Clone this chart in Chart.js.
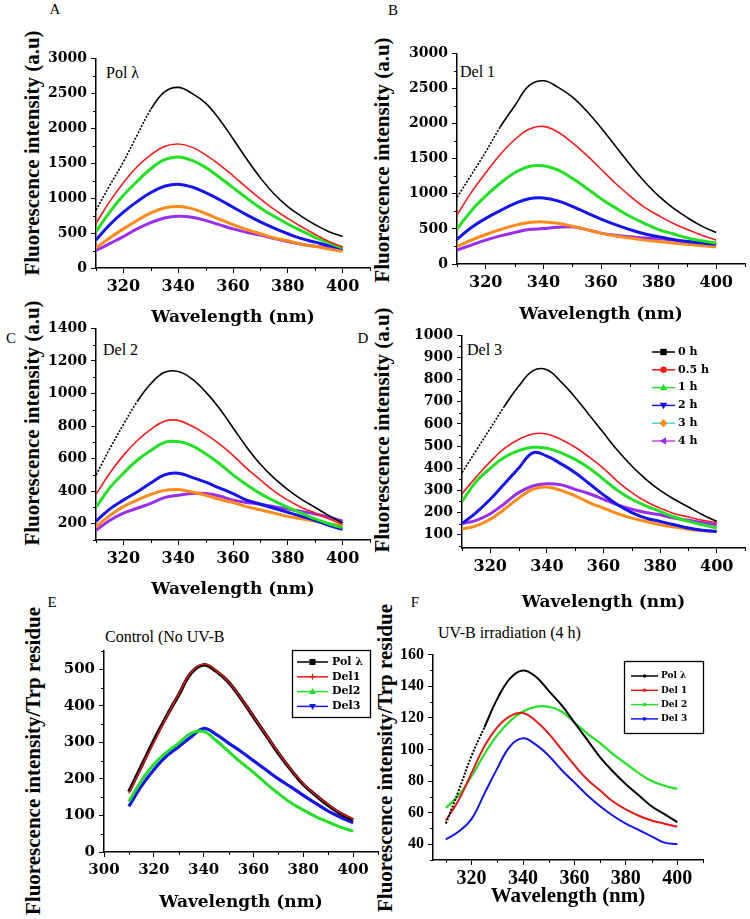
<!DOCTYPE html>
<html>
<head>
<meta charset="utf-8">
<script src="https://cdn.jsdelivr.net/npm/chart.js@4.4.0/dist/chart.umd.min.js"></script>
<style>
  body { margin:0; background:#fff; }
  #fig { position:relative; width:750px; height:919px; overflow:hidden; font-family:"Liberation Serif", serif; color:#000; }
  #fig canvas { position:absolute; }
  .lbl { position:absolute; white-space:nowrap; transform:translate(0,-50%); font-size:16px; }
  .let { position:absolute; white-space:nowrap; transform:translate(-50%,-50%); font-size:15px; }
  .ytitle { position:absolute; white-space:nowrap; font-weight:bold; font-size:21px; transform:translate(-50%,-50%) rotate(-90deg); }
</style>
</head>
<body>
<div id="fig">
  <div class="let" style="left:55px;top:9px">A</div>
  <div class="let" style="left:393px;top:10px">B</div>
  <div class="let" style="left:11px;top:338px">C</div>
  <div class="let" style="left:363px;top:338px">D</div>
  <div class="let" style="left:52px;top:602px">E</div>
  <div class="let" style="left:415px;top:602px">F</div>

  <div class="lbl" style="left:106px;top:73px">Pol λ</div>
  <div class="lbl" style="left:460px;top:72px">Del 1</div>
  <div class="lbl" style="left:103px;top:350px">Del 2</div>
  <div class="lbl" style="left:467px;top:350px">Del 3</div>
  <div class="lbl" style="left:105px;top:637px">Control (No UV-B</div>
  <div class="lbl" style="left:438px;top:633px">UV-B irradiation (4 h)</div>

  <div class="ytitle" style="left:32px;top:153px">Fluorescence intensity (a.u)</div>
  <div class="ytitle" style="left:382px;top:160px">Fluorescence intensity (a.u)</div>
  <div class="ytitle" style="left:32px;top:423px">Fluorescence intensity (a.u)</div>
  <div class="ytitle" style="left:382px;top:430px">Fluorescence intensity (a.u)</div>
  <div class="ytitle" style="left:33px;top:761px">Fluorescence intensity/Trp residue</div>
  <div class="ytitle" style="left:385px;top:758px">Fluorescence intensity/Trp residue</div>
</div>

<script>
// wavelengths (nm) shared by every spectrum
var wl = [310,315,320,325,330,335,340,345,350,355,360,365,370,375,380,385,390,395,400];

var times = ["0 h","0.5 h","1 h","2 h","3 h","4 h"];
var proteinsE = ["Pol λ","Del1","Del2","Del3"];
var proteinsF = ["Pol λ","Del 1","Del 2","Del 3"];

// A - Pol lambda
var a0h  = [830,1180,1520,1900,2270,2520,2585,2500,2360,2130,1850,1560,1290,1060,880,740,620,520,450];
var a05h = [640,950,1220,1450,1620,1740,1775,1730,1620,1480,1320,1150,990,840,710,590,480,380,300];
var a1h  = [520,800,1040,1240,1420,1550,1590,1540,1440,1300,1150,1000,860,740,630,530,440,360,290];
var a2h  = [400,620,800,950,1080,1170,1200,1160,1080,980,870,760,660,570,490,420,370,320,280];
var a3h  = [290,430,560,680,790,860,880,850,780,700,620,550,490,430,390,340,310,270,240];
var a4h  = [250,350,450,560,650,715,740,725,680,620,560,510,470,420,380,340,310,290,270];

// B - Del 1
var b0h  = [950,1270,1600,1950,2250,2540,2610,2520,2380,2180,1940,1680,1420,1180,970,800,660,540,450];
var b05h = [700,1020,1300,1560,1770,1920,1960,1880,1730,1550,1350,1150,970,810,690,580,490,410,340];
var b1h  = [500,760,970,1150,1300,1390,1400,1340,1220,1080,930,800,680,580,490,430,370,330,300];
var b2h  = [350,520,650,760,860,930,940,900,820,730,640,560,490,430,390,350,320,300,280];
var b3h  = [250,340,420,490,550,590,600,580,540,490,440,400,370,340,320,300,280,260,245];
var b4h  = [200,270,340,400,450,490,505,525,530,490,440,410,390,370,360,340,320,305,290];

// C - Del 2
var c0h  = [500,660,810,950,1060,1130,1135,1090,1010,910,790,670,565,480,410,350,300,250,205];
var c05h = [380,510,620,710,780,830,835,800,750,690,620,540,470,400,345,300,265,230,195];
var c1h  = [300,420,510,590,650,700,705,680,630,570,500,440,385,340,300,265,230,200,175];
var c2h  = [215,290,345,395,450,500,510,485,455,420,385,345,320,295,270,245,220,190,165];
var c3h  = [180,250,305,345,380,405,410,395,375,350,330,305,285,265,245,230,215,200,185];
var c4h  = [160,220,265,295,325,360,375,385,385,370,345,330,320,305,290,275,260,240,215];

// D - Del 3
var d0h  = [380,480,580,680,770,840,845,790,720,640,560,480,410,350,300,260,225,190,160];
var d05h = [285,360,430,490,530,555,555,530,495,450,400,340,290,250,220,195,180,165,155];
var d1h  = [250,340,400,450,480,495,490,470,440,400,350,300,260,230,205,180,160,145,130];
var d2h  = [150,200,260,330,400,470,455,420,380,330,280,235,200,175,160,145,130,120,115];
var d3h  = [125,140,170,215,265,305,315,300,275,245,220,195,175,160,145,135,125,118,115];
var d4h  = [150,165,195,240,290,320,330,325,305,285,260,235,215,200,190,175,165,155,145];

// E - control, per Trp residue
var ePol  = [165,235,305,370,430,490,512,495,465,420,370,320,270,225,185,155,128,105,88];
var eDel1 = [160,232,300,368,432,492,514,497,466,421,371,321,272,226,187,156,130,107,90];
var eDel2 = [138,195,240,272,298,325,330,305,275,245,218,188,160,135,115,97,82,68,57];
var eDel3 = [125,180,225,262,288,315,338,322,298,275,250,225,200,178,155,133,112,95,80];

// F - UV-B 4 h, per Trp residue
var fPol  = [53,74,96,114,132,145,150,146,137,128,117,106,95,86,78,71,64,59,54];
var fDel1 = [55,68,85,102,114,121,123,118,110,100,90,81,74,67,62,58,55,53,51];
var fDel2 = [63,71,83,97,109,118,124,127,127,124,117,110,104,97,91,85,80,77,75];
var fDel3 = [43,48,56,72,88,102,107,103,96,87,79,71,64,58,53,49,45,41,40];

// tick labels
var xTicks  = [320,340,360,380,400];
var xTicksE = [300,320,340,360,380,400];
var xMinor  = [310,330,350,370,390,410];
var yTicksAB = [0,500,1000,1500,2000,2500,3000];
var yMinorAB = [250,750,1250,1750,2250,2750];
var yTicksC = [200,400,600,800,1000,1200,1400];
var yMinorC = [100,300,500,700,900,1100,1300];
var yTicksD = [100,200,300,400,500,600,700,800,900,1000];
var yMinorD = [50,150,250,350,450,550,650,750,850,950];
var yTicksE = [0,100,200,300,400,500];
var yMinorE = [50,150,250,350,450,550];
var yTicksF = [40,60,80,100,120,140,160];
var yMinorF = [30,50,70,90,110,130,150];

var timeColors = ['#000000','#ff1a1a','#22e022','#1414f0','#ff8a18','#9a2ef0'];
var timeWidths = [1.6,1.6,3,3,3,3];
var protColors = ['#000000','#e81818','#22e022','#1414f0'];

var wide = 'DejaVu Serif', times_ = 'Liberation Serif';
Chart.defaults.color = '#000';

var fig = document.getElementById('fig');

function drawMarker(ctx, style, x, y, r, color) {
  ctx.fillStyle = color;
  ctx.strokeStyle = color;
  ctx.beginPath();
  if (style === 'square') ctx.rect(x - r, y - r, 2 * r, 2 * r);
  else if (style === 'circle') ctx.arc(x, y, r, 0, Math.PI * 2);
  else if (style === 'up') { ctx.moveTo(x, y - r * 1.2); ctx.lineTo(x + r * 1.15, y + r * 0.8); ctx.lineTo(x - r * 1.15, y + r * 0.8); }
  else if (style === 'down') { ctx.moveTo(x, y + r * 1.2); ctx.lineTo(x + r * 1.15, y - r * 0.8); ctx.lineTo(x - r * 1.15, y - r * 0.8); }
  else if (style === 'left') { ctx.moveTo(x - r * 1.2, y); ctx.lineTo(x + r * 0.8, y - r * 1.15); ctx.lineTo(x + r * 0.8, y + r * 1.15); }
  else if (style === 'diamond') { ctx.moveTo(x, y - r * 1.3); ctx.lineTo(x + r * 1.3, y); ctx.lineTo(x, y + r * 1.3); ctx.lineTo(x - r * 1.3, y); }
  else if (style === 'plus') { ctx.lineWidth = 1.2; ctx.moveTo(x - r, y); ctx.lineTo(x + r, y); ctx.moveTo(x, y - r); ctx.lineTo(x, y + r); ctx.stroke(); return; }
  ctx.closePath();
  ctx.fill();
}

// legend with a short line and a marker, in page coordinates
function legendPlugin(lg, ox, oy) {
  return {
    id: 'lineLegend',
    afterDatasetsDraw: function(chart) {
      var ctx = chart.ctx;
      ctx.save();
      if (lg.box) {
        ctx.strokeStyle = '#000';
        ctx.lineWidth = 1.3;
        ctx.strokeRect(lg.box[0] - ox + 0.5, lg.box[1] - oy + 0.5, lg.box[2] - lg.box[0], lg.box[3] - lg.box[1]);
      }
      ctx.font = lg.font;
      ctx.textBaseline = 'middle';
      lg.labels.forEach(function(lab, i) {
        var y = lg.y0 + i * lg.dy - oy;
        var x1 = lg.x0 - ox, x2 = lg.x1 - ox;
        ctx.strokeStyle = lg.lineColors[i];
        ctx.lineWidth = lg.lw;
        ctx.beginPath(); ctx.moveTo(x1, y); ctx.lineTo(x2, y); ctx.stroke();
        drawMarker(ctx, lg.markers[i], (x1 + x2) / 2, y, lg.r, lg.markColors[i]);
        ctx.fillStyle = '#000';
        ctx.fillText(lab, lg.tx - ox, y);
      });
      ctx.restore();
    }
  };
}

function minorPlugin(xm, ym, len) {
  return {
    id: 'minorTicks',
    afterDraw: function(chart) {
      var ctx = chart.ctx, xs = chart.scales.x, ys = chart.scales.y, ca = chart.chartArea;
      ctx.save();
      ctx.strokeStyle = '#000';
      ctx.lineWidth = 1;
      ctx.beginPath();
      xm.forEach(function(v) {
        if (v < xs.min || v > xs.max) return;
        var px = Math.round(xs.getPixelForValue(v)) + 0.5;
        ctx.moveTo(px, ca.bottom); ctx.lineTo(px, ca.bottom + len);
      });
      ym.forEach(function(v) {
        if (v < ys.min || v > ys.max) return;
        var py = Math.round(ys.getPixelForValue(v)) + 0.5;
        ctx.moveTo(ca.left, py); ctx.lineTo(ca.left - len, py);
      });
      ctx.stroke();
      ctx.restore();
    }
  };
}

function makePanel(p) {
  var left = p.plot.L - p.yW, top = p.plot.T - p.padTop;
  var w = p.yW + (p.plot.R - p.plot.L) + p.padR;
  var h = p.padTop + (p.plot.B - p.plot.T) + p.xH;
  var cv = document.createElement('canvas');
  cv.width = w; cv.height = h;
  cv.style.left = left + 'px'; cv.style.top = top + 'px';
  cv.style.width = w + 'px'; cv.style.height = h + 'px';
  fig.appendChild(cv);

  var sets = p.series.map(function(vals, i) {
    var ds = {
      label: p.labels[i],
      data: wl.map(function(x, j) { return {x: x, y: vals[j]}; }),
      borderColor: p.colors[i],
      borderWidth: p.widths[i],
      pointRadius: 0,
      fill: false,
      tension: 0.4,
      order: p.orders ? p.orders[i] : i
    };
    if (i === 0 && p.dashTo) {
      ds.segment = { borderDash: function(c) { return c.p1.parsed.x <= p.dashTo ? [2, 1.5] : undefined; } };
    }
    return ds;
  });

  var plugs = [minorPlugin(p.xMinor, p.yMinor, 3)];
  if (p.legend) plugs.push(legendPlugin(p.legend, left, top));

  new Chart(cv, {
    type: 'line',
    data: { datasets: sets },
    options: {
      responsive: false,
      animation: false,
      devicePixelRatio: 1,
      layout: { padding: { top: p.padTop, right: p.padR, left: 0, bottom: 0 } },
      plugins: { legend: { display: false }, tooltip: { enabled: false } },
      scales: {
        x: {
          type: 'linear', min: p.xMin, max: p.xMax,
          afterBuildTicks: function(s) { s.ticks = p.xTicks.map(function(v) { return {value: v}; }); },
          afterFit: function(s) { s.height = p.xH; },
          border: { display: true, color: '#000', width: 1.5 },
          grid: { display: true, drawOnChartArea: false, drawTicks: true, tickLength: 5, color: '#000' },
          ticks: { autoSkip: false, maxRotation: 0, padding: p.xPad, font: p.xTickFont, color: '#000',
                   callback: function(v) { return String(v); } },
          title: { display: true, text: 'Wavelength (nm)', font: p.xTitleFont, color: '#000', padding: 0 }
        },
        y: {
          type: 'linear', min: p.yMin, max: p.yMax,
          afterBuildTicks: function(s) { s.ticks = p.yTicks.map(function(v) { return {value: v}; }); },
          afterFit: function(s) { s.width = p.yW; },
          border: { display: true, color: '#000', width: 1.5 },
          grid: { display: true, drawOnChartArea: false, drawTicks: true, tickLength: 5, color: '#000' },
          ticks: { autoSkip: false, padding: 4, font: p.yTickFont, color: '#000',
                   callback: function(v) { return String(v); } }
        }
      }
    },
    plugins: plugs
  });
}

var fTickA = {family: wide, size: 14, weight: 'bold'};
var fXTickA = {family: wide, size: 16, weight: 'bold'};
var fTitleA = {family: wide, size: 17, weight: 'bold'};

makePanel({ plot: {L: 96, R: 370, T: 58, B: 268}, yW: 76, padTop: 12, padR: 10, xH: 60, xPad: 4,
  xMin: 310, xMax: 410, yMin: 0, yMax: 3000, xTicks: xTicks, yTicks: yTicksAB, xMinor: xMinor, yMinor: yMinorAB,
  series: [a0h, a05h, a1h, a2h, a3h, a4h], labels: times, colors: timeColors, widths: timeWidths, dashTo: 330,
  yTickFont: fTickA, xTickFont: fXTickA, xTitleFont: fTitleA });

makePanel({ plot: {L: 457, R: 745, T: 53, B: 264}, yW: 87, padTop: 12, padR: 5, xH: 61, xPad: 4,
  xMin: 310, xMax: 410, yMin: 0, yMax: 3000, xTicks: xTicks, yTicks: yTicksAB, xMinor: xMinor, yMinor: yMinorAB,
  series: [b0h, b05h, b1h, b2h, b3h, b4h], labels: times, colors: timeColors, widths: timeWidths, dashTo: 328,
  yTickFont: fTickA, xTickFont: fXTickA, xTitleFont: fTitleA });

makePanel({ plot: {L: 96, R: 370, T: 328, B: 540}, yW: 76, padTop: 12, padR: 10, xH: 60, xPad: 4,
  xMin: 310, xMax: 410, yMin: 100, yMax: 1400, xTicks: xTicks, yTicks: yTicksC, xMinor: xMinor, yMinor: yMinorC,
  series: [c0h, c05h, c1h, c2h, c3h, c4h], labels: times, colors: timeColors, widths: timeWidths, dashTo: 325,
  yTickFont: fTickA, xTickFont: fXTickA, xTitleFont: fTitleA });

makePanel({ plot: {L: 462, R: 745, T: 335, B: 548}, yW: 90, padTop: 12, padR: 5, xH: 65, xPad: 4,
  xMin: 310, xMax: 410, yMin: 40, yMax: 1000, xTicks: xTicks, yTicks: yTicksD, xMinor: xMinor, yMinor: yMinorD,
  series: [d0h, d05h, d1h, d2h, d3h, d4h], labels: times, colors: timeColors, widths: timeWidths, dashTo: 325,
  yTickFont: fTickA, xTickFont: fXTickA, xTitleFont: fTitleA,
  legend: { labels: times, x0: 652, x1: 675, tx: 678, y0: 352, dy: 17.8, lw: 1.5, r: 3.2,
            font: 'bold 11px "DejaVu Serif"',
            lineColors: ['#000000','#ff1a1a','#22e022','#1414f0','#33dede','#c845ee'],
            markColors: timeColors,
            markers: ['square','circle','up','down','diamond','left'] } });

makePanel({ plot: {L: 104, R: 378, T: 650, B: 852}, yW: 84, padTop: 12, padR: 10, xH: 61, xPad: 4,
  xMin: 300, xMax: 410, yMin: 0, yMax: 550, xTicks: xTicksE, yTicks: yTicksE, xMinor: xMinor, yMinor: yMinorE,
  series: [ePol, eDel1, eDel2, eDel3], labels: proteinsE, colors: protColors, widths: [3.5, 1.4, 3, 3.2],
  orders: [1, 0, 2, 3],
  yTickFont: {family: wide, size: 15, weight: 'bold'}, xTickFont: {family: wide, size: 15, weight: 'bold'},
  xTitleFont: {family: wide, size: 17, weight: 'bold'},
  legend: { labels: proteinsE, x0: 297, x1: 328, tx: 332, y0: 662, dy: 14.8, lw: 1.5, r: 3,
            box: [292, 650, 370, 717], font: 'bold 11px "DejaVu Serif"',
            lineColors: protColors, markColors: protColors, markers: ['square','plus','up','down'] } });

makePanel({ plot: {L: 433, R: 703, T: 653, B: 860}, yW: 61, padTop: 12, padR: 12, xH: 49, xPad: 2,
  xMin: 305, xMax: 410, yMin: 30, yMax: 160, xTicks: xTicks, yTicks: yTicksF, xMinor: xMinor, yMinor: yMinorF,
  series: [fPol, fDel1, fDel2, fDel3], labels: proteinsF, colors: protColors, widths: [2, 2, 2.2, 2],
  dashTo: 328,
  yTickFont: {family: times_, size: 16, weight: 'bold'}, xTickFont: {family: times_, size: 20, weight: 'bold'},
  xTitleFont: {family: times_, size: 21, weight: 'bold'},
  legend: { labels: proteinsF, x0: 631, x1: 658, tx: 661, y0: 676, dy: 14.3, lw: 1.5, r: 1.8,
            box: [624, 661, 703, 733], font: 'bold 9px "DejaVu Serif"',
            lineColors: protColors, markColors: protColors, markers: ['circle','circle','circle','circle'] } });
</script>
</body>
</html>
